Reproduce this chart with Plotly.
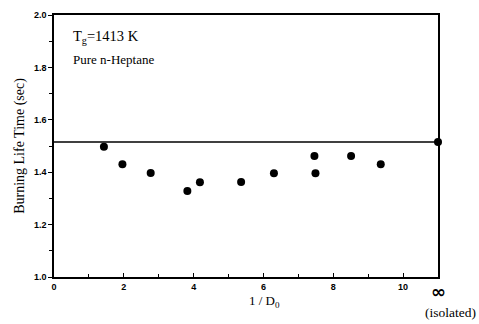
import plotly.graph_objects as go

inv_d0 = [1.43, 1.96, 2.77, 3.82, 4.18, 5.36, 6.30, 7.46, 7.49, 8.51, 9.36]
life_time = [1.497, 1.430, 1.397, 1.328, 1.362, 1.363, 1.396, 1.462, 1.396, 1.462, 1.430]
isolated_x = 11
isolated_life = 1.515
x_tickvals = [0, 2, 4, 6, 8, 10]
x_ticktext = ["0", "2", "4", "6", "8", "10"]
y_tickvals = [1.0, 1.2, 1.4, 1.6, 1.8, 2.0]
y_ticktext = ["1.0", "1.2", "1.4", "1.6", "1.8", "2.0"]

fig = go.Figure()
fig.add_trace(go.Scatter(x=[0, isolated_x], y=[isolated_life, isolated_life], mode="lines",
                         line=dict(color="black", width=1.5), hoverinfo="skip", cliponaxis=False))
fig.add_trace(go.Scatter(x=inv_d0 + [isolated_x], y=life_time + [isolated_life], mode="markers",
                         marker=dict(color="black", size=8), cliponaxis=False))

fig.update_layout(
    width=479, height=324,
    margin=dict(l=54, r=41, t=10, b=47),
    paper_bgcolor="white", plot_bgcolor="white",
    showlegend=False,
    font=dict(family="Liberation Serif", color="black"),
)
fig.update_xaxes(range=[0, 11], tickvals=x_tickvals, ticktext=x_ticktext,
                 showgrid=False, zeroline=False, showline=True, linecolor="black", linewidth=1.5,
                 mirror=True, ticks="inside", ticklen=4, tickwidth=1.2, tickcolor="black",
                 minor=dict(dtick=1, tick0=0, ticks="inside", ticklen=3, tickcolor="black", showgrid=False),
                 tickfont=dict(family="Liberation Sans", size=9, color="black", weight="bold"))
fig.update_yaxes(range=[1.0, 2.0], tickvals=y_tickvals, ticktext=y_ticktext,
                 showgrid=False, zeroline=False, showline=True, linecolor="black", linewidth=1.5,
                 mirror=True, ticks="outside", ticklen=4, tickwidth=1.2, tickcolor="black",
                 minor=dict(dtick=0.1, tick0=1.0, ticks="outside", ticklen=3, tickcolor="black", showgrid=False),
                 tickfont=dict(family="Liberation Sans", size=9, color="black", weight="bold"),
                 title=dict(text="Burning Life Time (sec)", font=dict(family="Liberation Serif", size=14), standoff=6))

fig.add_annotation(x=isolated_x, y=1.0, yref="y", text="∞", showarrow=False, yanchor="top", yshift=-2,
                   font=dict(family="DejaVu Sans", size=18, color="black", weight="bold"))
fig.add_annotation(xref="paper", yref="paper", x=0.548, y=-0.055, yanchor="top",
                   text="1 / D<sub>0</sub>", showarrow=False,
                   font=dict(family="Liberation Serif", size=13))
fig.add_annotation(xref="paper", yref="paper", x=1.105, y=-0.1, yanchor="top", xanchor="right",
                   text="(isolated)", showarrow=False,
                   font=dict(family="Liberation Serif", size=13.5))
fig.add_annotation(xref="paper", yref="paper", x=0.045, y=0.915, xanchor="left", yanchor="middle",
                   text="T<sub>g</sub>=1413 K", showarrow=False,
                   font=dict(family="Liberation Serif", size=14.5))
fig.add_annotation(xref="paper", yref="paper", x=0.045, y=0.83, xanchor="left", yanchor="middle",
                   text="Pure n-Heptane", showarrow=False,
                   font=dict(family="Liberation Serif", size=13))

fig.write_html("out.html")
